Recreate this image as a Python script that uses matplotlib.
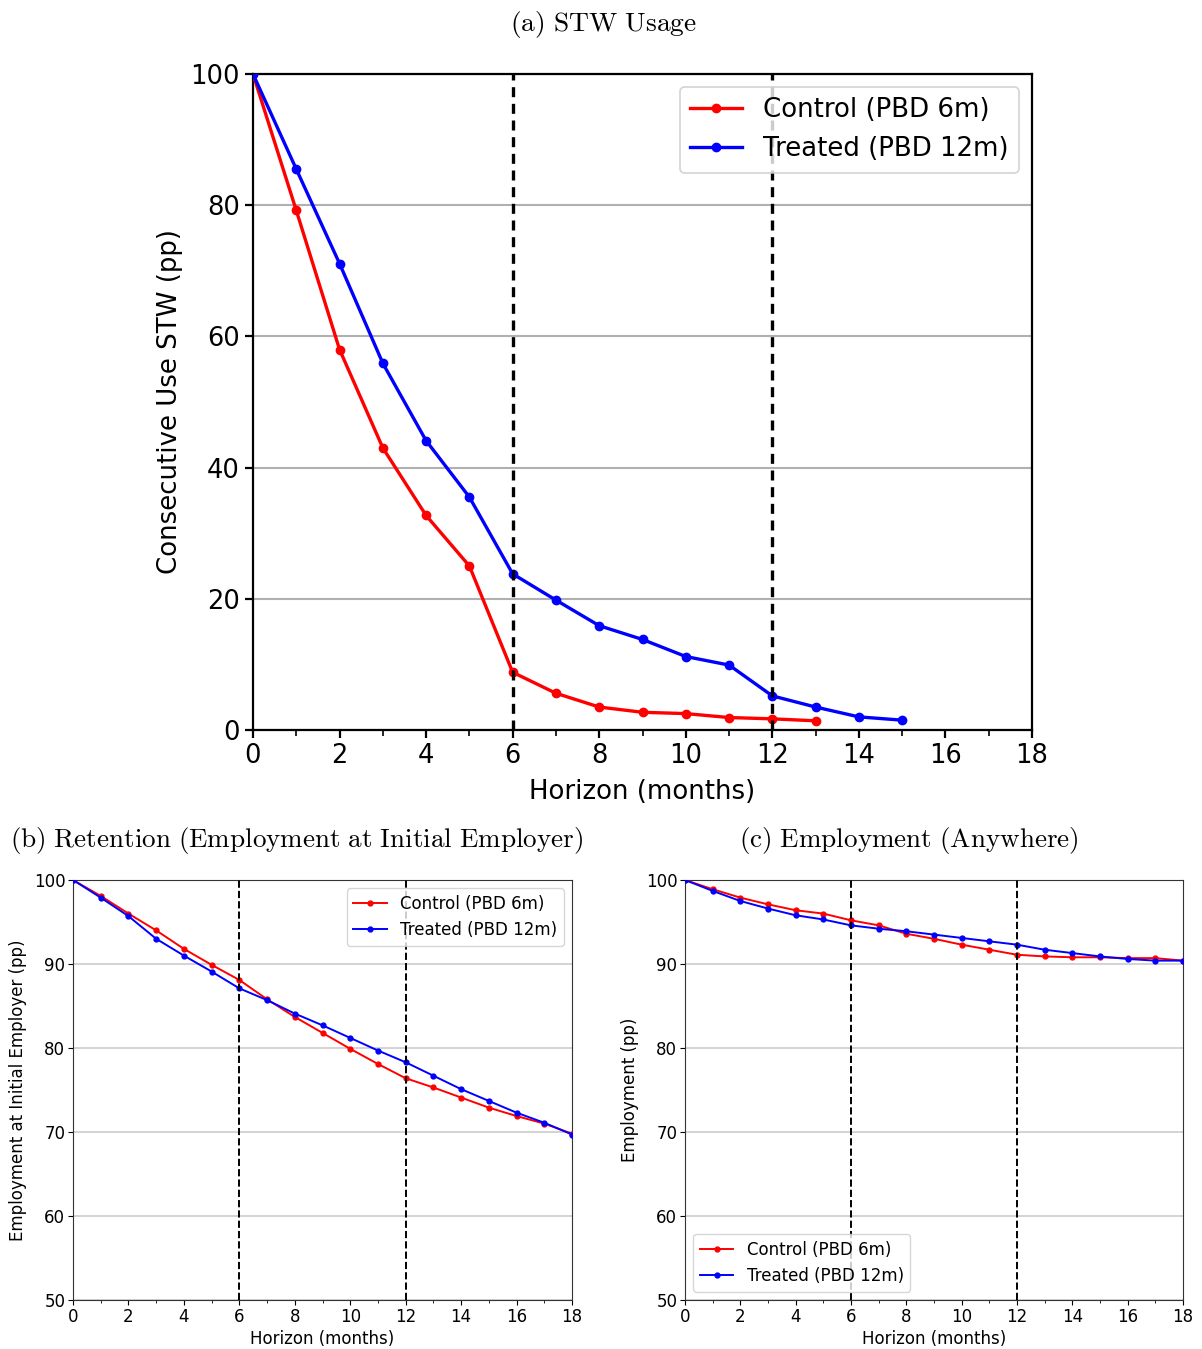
import matplotlib
matplotlib.use("Agg")
import matplotlib.pyplot as plt
from matplotlib.ticker import MultipleLocator

plt.rcParams['mathtext.fontset'] = 'cm'

# ---- Data ----
stw_months_ctrl = list(range(0, 14))
stw_ctrl = [100, 79.2, 58.0, 43.0, 32.7, 25.0, 8.8, 5.6, 3.5, 2.7, 2.5, 1.9, 1.7, 1.4]
stw_months_trt = list(range(0, 16))
stw_trt = [100, 85.5, 71.1, 55.9, 44.1, 35.5, 23.8, 19.8, 15.9, 13.8, 11.2, 9.9, 5.2, 3.5, 2.0, 1.5]

months = list(range(0, 19))
ret_ctrl = [100, 98.1, 96.0, 94.0, 91.8, 89.9, 88.1, 85.8, 83.7, 81.8, 79.9, 78.1, 76.4, 75.3, 74.1, 72.9, 71.9, 71.0, 69.8]
ret_trt = [100, 97.9, 95.7, 93.0, 91.0, 89.1, 87.1, 85.7, 84.1, 82.7, 81.2, 79.7, 78.3, 76.7, 75.1, 73.7, 72.3, 71.1, 69.7]

emp_ctrl = [100, 98.9, 97.9, 97.1, 96.4, 96.0, 95.2, 94.6, 93.6, 93.0, 92.3, 91.7, 91.1, 90.9, 90.8, 90.8, 90.7, 90.7, 90.4]
emp_trt = [100, 98.7, 97.5, 96.6, 95.8, 95.3, 94.6, 94.2, 93.9, 93.5, 93.1, 92.7, 92.3, 91.7, 91.3, 90.9, 90.6, 90.4, 90.4]

labels = ["Control (PBD 6m)", "Treated (PBD 12m)"]
cutoffs = [6, 12]
x_ticks = list(range(0, 19, 2))

W, H = 1202, 1349
fig = plt.figure(figsize=(W / 100, H / 100), dpi=100)

def rect(l, r, t, b):
    return [l / W, 1 - b / H, (r - l) / W, (b - t) / H]

# ---- Panel (a) ----
ax = fig.add_axes(rect(253, 1032, 74, 730))
ax.plot(stw_months_ctrl, stw_ctrl, color='red', marker='o', lw=2.4, ms=6, label=labels[0], zorder=3)
ax.plot(stw_months_trt, stw_trt, color='blue', marker='o', lw=2.4, ms=6, label=labels[1], zorder=3)
for c in cutoffs:
    ax.axvline(c, color='black', ls='--', lw=2.4, dashes=(3, 2), zorder=4)
ax.set_xlim(0, 18)
ax.set_ylim(0, 100)
ax.set_xticks(x_ticks)
ax.xaxis.set_minor_locator(MultipleLocator(1))
ax.set_yticks([0, 20, 40, 60, 80, 100])
ax.yaxis.grid(True, color='#b0b0b0', lw=1.5)
ax.set_axisbelow(True)
ax.tick_params(labelsize=18.5, width=1.6, length=6)
ax.tick_params(which='minor', width=1.2, length=4)
for s in ax.spines.values():
    s.set_linewidth(1.6)
ax.set_xlabel("Horizon (months)", fontsize=18.7, labelpad=7)
ax.set_ylabel("Consecutive Use STW (pp)", fontsize=18.7, labelpad=5)
leg = ax.legend(loc='upper right', fontsize=18.7, frameon=True, handlelength=2, borderpad=0.4)
leg.get_frame().set_linewidth(1.3)
fig.text(603 / W, 1 - 24 / H, r"$\mathrm{(a)\ STW\ Usage}$", ha='center', va='center', fontsize=19.8)

# ---- Bottom panels ----
def bottom(rect_px, yc, yt, ylabel, legloc, title, tx):
    a = fig.add_axes(rect(*rect_px))
    a.plot(months, yc, color='red', marker='o', lw=1.4, ms=3.5, label=labels[0], zorder=3)
    a.plot(months, yt, color='blue', marker='o', lw=1.4, ms=3.5, label=labels[1], zorder=3)
    for c in cutoffs:
        a.axvline(c, color='black', ls='--', lw=1.4, zorder=4)
    a.set_xlim(0, 18)
    a.set_ylim(50, 100)
    a.set_xticks(x_ticks)
    a.xaxis.set_minor_locator(MultipleLocator(1))
    a.set_yticks([50, 60, 70, 80, 90, 100])
    a.yaxis.grid(True, color='#cccccc', lw=1.2)
    a.set_axisbelow(True)
    a.tick_params(labelsize=12, pad=2)
    for s in a.spines.values():
        s.set_color('#333333')
    a.set_xlabel("Horizon (months)", fontsize=12, labelpad=3)
    a.set_ylabel(ylabel, fontsize=12, labelpad=5)
    a.legend(loc=legloc, fontsize=12, handlelength=2)
    fig.text(tx / W, 1 - 841 / H, title, ha='center', va='center', fontsize=19.5)
    return a

bottom((73, 572, 880, 1300), ret_ctrl, ret_trt, "Employment at Initial Employer (pp)", 'upper right',
       r"$\mathrm{(b)\ Retention\ (Employment\ at\ Initial\ Employer)}$", 297)
bottom((685, 1183, 880, 1300), emp_ctrl, emp_trt, "Employment (pp)", 'lower left',
       r"$\mathrm{(c)\ Employment\ (Anywhere)}$", 909)

fig.savefig("out.png", dpi=100)
